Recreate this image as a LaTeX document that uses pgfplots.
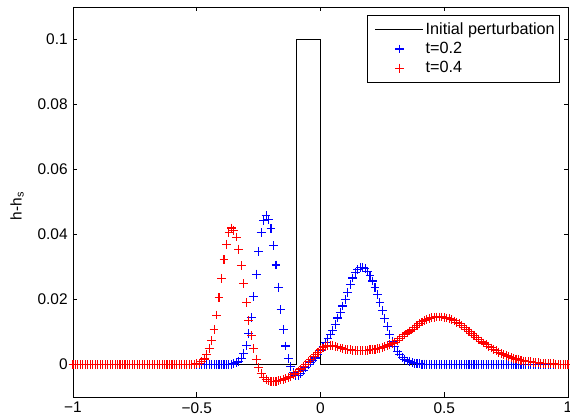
\documentclass[border=0pt]{standalone}
\usepackage{pgfplots}
\pgfplotsset{compat=1.18}
\usepackage{fontspec}
\setmainfont{Liberation Sans}
\begin{document}
\fontsize{15.5}{18.6}\selectfont
\begin{tikzpicture}
\useasboundingbox (-73bp,-23bp) rectangle (497bp,397bp);
\begin{axis}[
  at={(0,0)}, anchor=south west,
  scale only axis, width=495bp, height=390bp,
  xmin=-1, xmax=1, ymin=-0.01, ymax=0.11,
  xtick={-1,-0.5,0,0.5,1},
  xticklabels={−1,−0.5,0,0.5,1},
  ytick={0,0.02,0.04,0.06,0.08,0.1},
  yticklabels={0,0.02,0.04,0.06,0.08,0.1},
  scaled ticks=false,
  tick align=inside, tick pos=both,
  major tick length=4.5bp,
  axis line style={line width=0.6bp},
  every tick/.style={black, line width=0.6bp},
  ylabel={h-h\textsubscript{s}},
  ylabel style={at={(axis description cs:-0.113,0.49)}, anchor=center},
  legend style={at={(0.984,0.98)}, anchor=north east, draw=black, line width=0.6bp,
    font=\fontsize{16.3}{19.5}\selectfont,
    row sep=1.5bp, inner xsep=3bp, inner ysep=5.5bp},
  legend cell align=left,
  legend image code/.code={\path (-5bp,0bp); \draw[mark repeat=2,mark phase=2,#1] plot coordinates {(0bp,0bp) (24bp,0bp) (48bp,0bp)};},
]
% initial perturbation
\addplot[black, line width=0.5bp] coordinates {
  (-1,0) (-0.1,0) (-0.1,0.1) (0,0.1) (0,0) (1,0)
};
% t = 0.2
\addplot[blue, only marks, mark=+, mark size=4.4bp, mark options={line width=1.1bp}] coordinates {
  (-1.00,0) (-0.99,0) (-0.98,0) (-0.97,0) (-0.96,0) (-0.95,0) (-0.94,0) (-0.93,0) (-0.92,0) (-0.91,0)
  (-0.90,0) (-0.89,0) (-0.88,0) (-0.87,0) (-0.86,0) (-0.85,0) (-0.84,0) (-0.83,0) (-0.82,0) (-0.81,0)
  (-0.80,0) (-0.79,0) (-0.78,0) (-0.77,0) (-0.76,0) (-0.75,0) (-0.74,0) (-0.73,0) (-0.72,0) (-0.71,0)
  (-0.70,0) (-0.69,0) (-0.68,0) (-0.67,0) (-0.66,0) (-0.65,0) (-0.64,0) (-0.63,0) (-0.62,0) (-0.61,0)
  (-0.60,0) (-0.59,0) (-0.58,0) (-0.57,0) (-0.56,0) (-0.55,0) (-0.54,0) (-0.53,0) (-0.52,0) (-0.51,0)
  (-0.50,0) (-0.49,0) (-0.48,0) (-0.47,0) (-0.46,0) (-0.45,0) (-0.44,0) (-0.43,0) (-0.42,0) (-0.41,0)
  (-0.40,0) (-0.39,0) (-0.38,0) (-0.37,0) (-0.36,0) (-0.35,0.0003) (-0.34,0.0006) (-0.33,0.0010) (-0.32,0.0018) (-0.31,0.0033)
  (-0.30,0.0058) (-0.29,0.0095) (-0.28,0.0145) (-0.27,0.0208) (-0.26,0.0278) (-0.25,0.0347) (-0.24,0.0405) (-0.23,0.0443) (-0.22,0.0458) (-0.21,0.0447)
  (-0.20,0.0418) (-0.19,0.0365) (-0.18,0.0306) (-0.17,0.0238) (-0.16,0.0168) (-0.15,0.0108) (-0.14,0.0057) (-0.13,0.0018) (-0.12,-0.0006) (-0.11,-0.0024)
  (-0.10,-0.0033) (-0.09,-0.0033) (-0.08,-0.0027) (-0.07,-0.0019) (-0.06,-0.0010) (-0.05,0.0000) (-0.04,0.0006) (-0.03,0.0012) (-0.02,0.0020) (-0.01,0.0030)
  (0.00,0.0043) (0.01,0.0055) (0.02,0.0068) (0.03,0.0080) (0.04,0.0093) (0.05,0.0105) (0.06,0.0124) (0.07,0.0143) (0.08,0.0160) (0.09,0.0180)
  (0.10,0.0200) (0.11,0.0222) (0.12,0.0245) (0.13,0.0266) (0.14,0.0282) (0.15,0.0292) (0.16,0.0298) (0.17,0.0299) (0.18,0.0296) (0.19,0.0287)
  (0.20,0.0274) (0.21,0.0257) (0.22,0.0237) (0.23,0.0215) (0.24,0.0191) (0.25,0.0166) (0.26,0.0141) (0.27,0.0116) (0.28,0.0093) (0.29,0.0072)
  (0.30,0.0055) (0.31,0.0041) (0.32,0.0030) (0.33,0.0022) (0.34,0.0016) (0.35,0.0011) (0.36,0.0008) (0.37,0.0006) (0.38,0.0004) (0.39,0.0003)
  (0.40,0.0002) (0.41,0.0001) (0.42,0.0001) (0.43,0.0001) (0.44,0) (0.45,0) (0.46,0) (0.47,0) (0.48,0) (0.49,0)
  (0.50,0) (0.51,0) (0.52,0) (0.53,0) (0.54,0) (0.55,0) (0.56,0) (0.57,0) (0.58,0) (0.59,0)
  (0.60,0) (0.61,0) (0.62,0) (0.63,0) (0.64,0) (0.65,0) (0.66,0) (0.67,0) (0.68,0) (0.69,0)
  (0.70,0) (0.71,0) (0.72,0) (0.73,0) (0.74,0) (0.75,0) (0.76,0) (0.77,0) (0.78,0) (0.79,0)
  (0.80,0) (0.81,0) (0.82,0) (0.83,0) (0.84,0) (0.85,0) (0.86,0) (0.87,0) (0.88,0) (0.89,0)
  (0.90,0) (0.91,0) (0.92,0) (0.93,0) (0.94,0) (0.95,0) (0.96,0) (0.97,0) (0.98,0) (0.99,0)
  (1.00,0)
};
% t = 0.4
\addplot[red, only marks, mark=+, mark size=4.4bp, mark options={line width=1.1bp}] coordinates {
  (-1.00,0) (-0.99,0) (-0.98,0) (-0.97,0) (-0.96,0) (-0.95,0) (-0.94,0) (-0.93,0) (-0.92,0) (-0.91,0)
  (-0.90,0) (-0.89,0) (-0.88,0) (-0.87,0) (-0.86,0) (-0.85,0) (-0.84,0) (-0.83,0) (-0.82,0) (-0.81,0)
  (-0.80,0) (-0.79,0) (-0.78,0) (-0.77,0) (-0.76,0) (-0.75,0) (-0.74,0) (-0.73,0) (-0.72,0) (-0.71,0)
  (-0.70,0) (-0.69,0) (-0.68,0) (-0.67,0) (-0.66,0) (-0.65,0) (-0.64,0) (-0.63,0) (-0.62,0) (-0.61,0)
  (-0.60,0) (-0.59,0) (-0.58,0) (-0.57,0) (-0.56,0) (-0.55,0) (-0.54,0) (-0.53,0) (-0.52,0) (-0.51,0)
  (-0.50,0.0002) (-0.49,0.0004) (-0.48,0.0009) (-0.47,0.0017) (-0.46,0.0030) (-0.45,0.0048) (-0.44,0.0073) (-0.43,0.0108) (-0.42,0.0152) (-0.41,0.0205)
  (-0.40,0.0265) (-0.39,0.0322) (-0.38,0.0370) (-0.37,0.0405) (-0.36,0.0420) (-0.35,0.0413) (-0.34,0.0392) (-0.33,0.0355) (-0.32,0.0304) (-0.31,0.0248)
  (-0.30,0.0190) (-0.29,0.0135) (-0.28,0.0088) (-0.27,0.0048) (-0.26,0.0016) (-0.25,-0.0010) (-0.24,-0.0028) (-0.23,-0.0040) (-0.22,-0.0047) (-0.21,-0.0051)
  (-0.20,-0.0053) (-0.19,-0.0053) (-0.18,-0.0052) (-0.17,-0.0050) (-0.16,-0.0048) (-0.15,-0.0046) (-0.14,-0.0043) (-0.13,-0.0040) (-0.12,-0.0036) (-0.11,-0.0032)
  (-0.10,-0.0027) (-0.09,-0.0021) (-0.08,-0.0014) (-0.07,-0.0007) (-0.06,0.0001) (-0.05,0.0009) (-0.04,0.0016) (-0.03,0.0024) (-0.02,0.0031) (-0.01,0.0038)
  (0.00,0.0045) (0.01,0.0051) (0.02,0.0055) (0.03,0.0058) (0.04,0.0059) (0.05,0.0058) (0.06,0.0056) (0.07,0.0054) (0.08,0.0051) (0.09,0.0049)
  (0.10,0.0047) (0.11,0.0046) (0.12,0.0045) (0.13,0.0044) (0.14,0.0044) (0.15,0.0043) (0.16,0.0043) (0.17,0.0043) (0.18,0.0044) (0.19,0.0044)
  (0.20,0.0045) (0.21,0.0046) (0.22,0.0047) (0.23,0.0048) (0.24,0.0050) (0.25,0.0052) (0.26,0.0055) (0.27,0.0058) (0.28,0.0061) (0.29,0.0065)
  (0.30,0.0069) (0.31,0.0074) (0.32,0.0079) (0.33,0.0085) (0.34,0.0091) (0.35,0.0097) (0.36,0.0103) (0.37,0.0109) (0.38,0.0115) (0.39,0.0121)
  (0.40,0.0127) (0.41,0.0131) (0.42,0.0135) (0.43,0.0139) (0.44,0.0142) (0.45,0.0144) (0.46,0.0145) (0.47,0.0146) (0.48,0.0146) (0.49,0.0146)
  (0.50,0.0145) (0.51,0.0143) (0.52,0.0141) (0.53,0.0138) (0.54,0.0134) (0.55,0.0130) (0.56,0.0125) (0.57,0.0120) (0.58,0.0114) (0.59,0.0108)
  (0.60,0.0102) (0.61,0.0096) (0.62,0.0090) (0.63,0.0084) (0.64,0.0078) (0.65,0.0072) (0.66,0.0066) (0.67,0.0061) (0.68,0.0056) (0.69,0.0051)
  (0.70,0.0046) (0.71,0.0042) (0.72,0.0038) (0.73,0.0034) (0.74,0.0030) (0.75,0.0027) (0.76,0.0024) (0.77,0.0021) (0.78,0.0019) (0.79,0.0017)
  (0.80,0.0015) (0.81,0.0013) (0.82,0.0011) (0.83,0.0010) (0.84,0.0009) (0.85,0.0008) (0.86,0.0007) (0.87,0.0006) (0.88,0.0005) (0.89,0.0004)
  (0.90,0.0003) (0.91,0.0003) (0.92,0.0002) (0.93,0.0002) (0.94,0.0002) (0.95,0.0001) (0.96,0.0001) (0.97,0.0001) (0.98,0.0001) (0.99,0)
  (1.00,0)
};
\legend{Initial perturbation, t=0.2, t=0.4}
\end{axis}
\end{tikzpicture}
\end{document}
